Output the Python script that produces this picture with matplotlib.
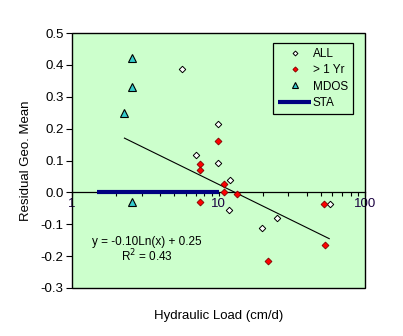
import matplotlib
matplotlib.use("Agg")
import matplotlib.pyplot as plt
import numpy as np
from matplotlib.patches import Rectangle
from matplotlib.ticker import FixedLocator, NullFormatter, FuncFormatter

plt.rcParams['font.family'] = ['Liberation Sans', 'DejaVu Sans']

# ALL (open diamonds)
all_x = [5.63, 6.99, 9.87, 9.87, 11.98, 11.8, 25.2, 19.7, 57.7]
all_y = [0.387, 0.117, 0.215, 0.093, 0.040, -0.055, -0.079, -0.111, -0.038]
# > 1 Yr (red diamonds)
yr_x = [7.47, 7.47, 9.87, 7.47, 10.9, 10.9, 13.3, 52.5, 53.5, 21.9]
yr_y = [0.089, 0.071, 0.162, -0.029, 0.027, 0.000, -0.004, -0.035, -0.164, -0.214]
# MDOS (triangles)
mdos_x = [2.58, 2.58, 2.28, 2.58]
mdos_y = [0.423, 0.332, 0.250, -0.029]
# STA line
sta_x = [1.47, 10.0]
sta_y = [0.0, 0.0]
# Log trend line coefficients (ALL)
trend_a = -0.098
trend_b = 0.251
trend_xrange = [2.28, 57.0]
eq_text = "y = -0.10Ln(x) + 0.25"
r2_text = "R$^2$ = 0.43"

x_major = [1, 10, 100]
y_ticks = [-0.3, -0.2, -0.1, 0.0, 0.1, 0.2, 0.3, 0.4, 0.5]

fig = plt.figure(figsize=(4.03, 3.36), dpi=100)
ax = fig.add_axes([72/403, 1-288/336, 293/403, 255/336])
ax.set_facecolor('#CCFFCC')
ax.set_xscale('log')
ax.set_xlim(1, 100)
ax.set_ylim(-0.3, 0.5)

tx = np.exp(np.linspace(np.log(trend_xrange[0]), np.log(trend_xrange[1]), 100))
ax.plot(tx, trend_a*np.log(tx) + trend_b, color='black', lw=0.8, zorder=2)

ax.plot(sta_x, sta_y, color='#000080', lw=3.0, solid_capstyle='butt', zorder=3, label='STA')
ax.plot(all_x, all_y, ls='none', marker='D', ms=3.3, mfc='white', mec='black', mew=0.7, zorder=4, label='ALL')
ax.plot(yr_x, yr_y, ls='none', marker='D', ms=3.5, mfc='#FF0000', mec='#800000', mew=0.6, zorder=5, label='> 1 Yr')
ax.plot(mdos_x, mdos_y, ls='none', marker='^', ms=5.6, mfc='#33CCCC', mec='black', mew=0.8, zorder=5, label='MDOS')

# spines
for s in ['top', 'right', 'left']:
    ax.spines[s].set_visible(False)
ax.spines['bottom'].set_position(('data', 0))
ax.spines['bottom'].set_linewidth(0.9)
ax.add_patch(Rectangle((0, 0), 1, 1, transform=ax.transAxes, fill=False,
                       ec='black', lw=1.0, clip_on=False, zorder=6))

ax.xaxis.set_major_locator(FixedLocator(x_major))
ax.xaxis.set_major_formatter(FuncFormatter(lambda v, p: '%d' % v))
minors = [m*d for d in [1, 10] for m in range(2, 10)]
ax.xaxis.set_minor_locator(FixedLocator(minors))
ax.xaxis.set_minor_formatter(NullFormatter())
ax.tick_params(axis='x', which='both', direction='out', length=3, width=0.8,
               labelsize=9.5, labelcolor='#1a0040', pad=1)
ax.set_yticks(y_ticks)
ax.yaxis.set_major_formatter(FuncFormatter(lambda v, p: '%.1f' % v))
ax.tick_params(axis='y', direction='out', length=4, width=0.8, labelsize=9.5, pad=2)

ax.set_xlabel('Hydraulic Load (cm/d)', fontsize=9.5, labelpad=0)
ax.xaxis.set_label_coords(0.5, -0.085)
ax.set_ylabel('Residual Geo. Mean', fontsize=9.5, labelpad=6)

ax.text(0.256, 0.179, eq_text, transform=ax.transAxes, ha='center', va='center', fontsize=8.5)
ax.text(0.256, 0.125, r2_text, transform=ax.transAxes, ha='center', va='center', fontsize=8.5)

h, l = ax.get_legend_handles_labels()
order = [1, 2, 3, 0]
leg = ax.legend([h[i] for i in order], [l[i] for i in order],
                loc='upper right', bbox_to_anchor=(0.959, 0.961), borderaxespad=0,
                fontsize=8.5,
                frameon=True, fancybox=False, edgecolor='black', facecolor='#CCFFCC',
                framealpha=1, handlelength=2.8, handletextpad=0.1, borderpad=0.45,
                labelspacing=0.35, markerscale=0.75)
leg.get_frame().set_linewidth(0.9)

fig.savefig('out.png', dpi=100, facecolor='white')
